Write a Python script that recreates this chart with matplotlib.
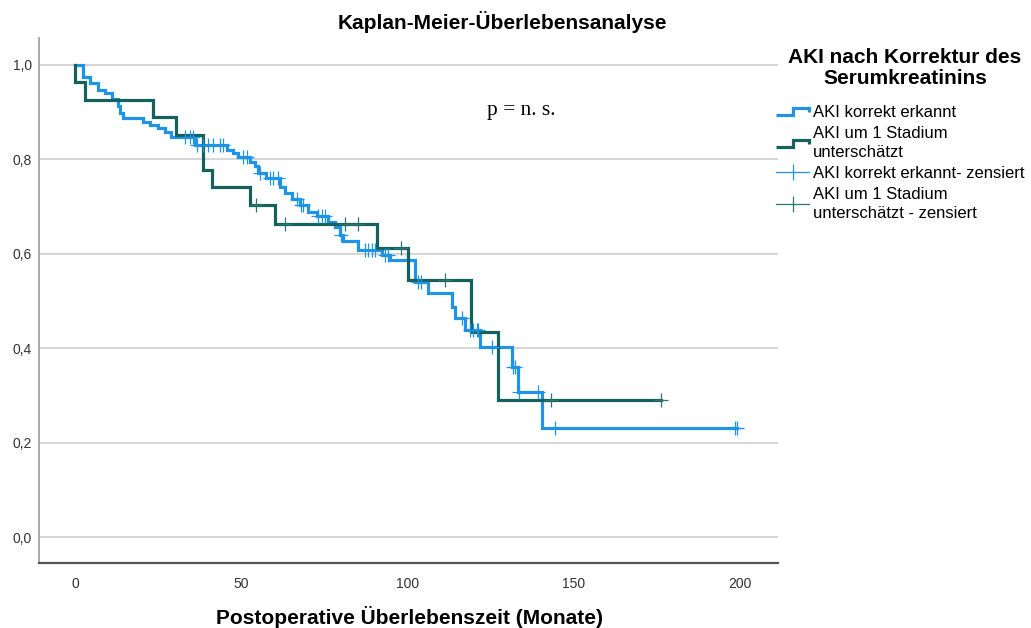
import numpy as np
import matplotlib
matplotlib.use("Agg")
import matplotlib.pyplot as plt
from matplotlib.lines import Line2D
from matplotlib.legend_handler import HandlerBase

plt.rcParams['font.family'] = ['Liberation Sans', 'DejaVu Sans']

# ---------------- data ----------------
blue_event_times = [2.5, 4.5, 7, 9, 11, 13, 13.7, 14.5, 20.5, 22.6,
                    25, 27, 29, 36, 45.6, 47.6, 49, 52.6, 54, 55,
                    57.6, 61.7, 63.2, 65.2, 67.7, 70, 72.7, 76.2, 78.2, 79.7,
                    80.7, 85.2, 92.2, 94.7, 102.3, 106.3, 113.3, 114.3, 117.3, 121.8,
                    131.3, 133.3, 140.4]
blue_surv = [0.975, 0.961, 0.947, 0.940, 0.927, 0.912, 0.899, 0.887, 0.880, 0.873,
             0.866, 0.857, 0.847, 0.830, 0.820, 0.813, 0.804, 0.795, 0.785, 0.770,
             0.760, 0.742, 0.728, 0.716, 0.703, 0.689, 0.679, 0.667, 0.657, 0.640,
             0.626, 0.608, 0.597, 0.587, 0.541, 0.516, 0.488, 0.463, 0.439, 0.402,
             0.361, 0.308, 0.230]
blue_censor_times = [33.1, 34.6, 35.6, 36.6, 38.6, 40.1, 41.6, 43.6, 44.6, 50.6,
                     51.6, 55.6, 58.6, 59.6, 61.1, 66.7, 68.0, 68.7, 73.2, 74.2,
                     75.2, 79.9, 87.2, 88.2, 89.2, 90.2, 93.2, 94.2, 103.2, 104.2,
                     116.3, 118.8, 119.8, 120.8, 121.3, 125.3, 131.6, 132.3, 133.6, 139.3,
                     144.4, 198.5, 199.2]

green_event_times = [0, 3, 23.4, 30.4, 38.4, 41.3, 52.6, 60.2, 90.9, 100.2, 119.2, 127.3]
green_surv = [0.963, 0.926, 0.889, 0.852, 0.778, 0.741, 0.703, 0.664, 0.613, 0.544, 0.435, 0.290]
green_censor_times = [54.5, 63.2, 81.3, 85.2, 98.0, 111.3, 143.2, 176.2]

group_labels = ["AKI korrekt erkannt", "AKI um 1 Stadium\nunterschätzt",
                "AKI korrekt erkannt- zensiert", "AKI um 1 Stadium\nunterschätzt - zensiert"]
x_ticks = [0, 50, 100, 150, 200]
x_tick_labels = ["0", "50", "100", "150", "200"]
y_ticks = [0.0, 0.2, 0.4, 0.6, 0.8, 1.0]
y_tick_labels = ["0,0", "0,2", "0,4", "0,6", "0,8", "1,0"]

BLUE = '#1f93e6'
GREEN = '#15625d'
GREEN_C = '#2e7570'

# ---------------- figure ----------------
fig = plt.figure(figsize=(10.31, 6.28), dpi=100)
ax = fig.add_axes([39/1031, 1-563/628, (778-39)/1031, (563-38)/628])

def step_arrays(times, surv, end):
    xs = np.concatenate([[0.0], np.asarray(times, float), [end]])
    ys = np.concatenate([[1.0], np.asarray(surv, float), [surv[-1]]])
    return xs, ys

def surv_at(xs, ys, t):
    idx = np.searchsorted(xs[:-1], t, side='right') - 1
    return ys[idx]

bx, by = step_arrays(blue_event_times, blue_surv, max(blue_censor_times))
gx, gy = step_arrays(green_event_times, green_surv, max(green_censor_times))

ax.step(bx, by, where='post', color=BLUE, lw=2.3, solid_joinstyle='miter', zorder=3)
ax.step(gx, gy, where='post', color=GREEN, lw=2.3, solid_joinstyle='miter', zorder=4)

bct = np.array(blue_censor_times)
gct = np.array(green_censor_times)
ax.plot(bct, surv_at(bx, by, bct), ls='none', marker='+', ms=10, mew=0.9, color=BLUE, zorder=5)
ax.plot(gct, surv_at(gx, gy, gct), ls='none', marker='+', ms=10, mew=0.9, color=GREEN_C, zorder=6)

ax.set_xlim(-10.8, 211.4)
ax.set_ylim(-0.055, 1.057)
ax.set_xticks(x_ticks)
ax.set_xticklabels(x_tick_labels)
ax.set_yticks(y_ticks)
ax.set_yticklabels(y_tick_labels)
ax.tick_params(axis='both', length=0, labelsize=10, labelcolor='#333333')
ax.tick_params(axis='x', pad=10)
ax.tick_params(axis='y', pad=5)
ax.grid(axis='y', color='#cccccc', lw=1.1)
ax.grid(axis='x', visible=False)
ax.set_axisbelow(True)
for s in ['top', 'right']:
    ax.spines[s].set_visible(False)
ax.spines['left'].set_color('#9a9a9a')
ax.spines['left'].set_linewidth(1.2)
ax.spines['bottom'].set_color('#555555')
ax.spines['bottom'].set_linewidth(1.6)

ax.text(123.9, 0.903, "p = n. s.", family=['Liberation Serif', 'DejaVu Serif'],
        fontsize=15.5, ha='left', va='center', color='black')

fig.text(502/1031, 1-22/628, "Kaplan-Meier-Überlebensanalyse", ha='center', va='center',
         fontsize=15, fontweight='bold')
fig.text(409/1031, 1-617/628, "Postoperative Überlebenszeit (Monate)", ha='center', va='center',
         fontsize=15, fontweight='bold')
fig.text(905/1031, 1-68/628, "AKI nach Korrektur des\nSerumkreatinins", ha='center', va='center',
         fontsize=15, fontweight='bold', linespacing=1.17)

# ---------------- legend ----------------
class StepHandler(HandlerBase):
    def create_artists(self, legend, orig_handle, xdescent, ydescent, width, height, fontsize, trans):
        x0, y0 = -xdescent, -ydescent
        xs = [x0, x0 + width * 0.52, x0 + width * 0.52, x0 + width, x0 + width]
        ys = [y0 + height * 0.15, y0 + height * 0.15, y0 + height * 0.75, y0 + height * 0.75, y0 + height * 0.45]
        ln = Line2D(xs, ys, color=orig_handle.get_color(), lw=orig_handle.get_linewidth(),
                    solid_joinstyle='miter', solid_capstyle='butt')
        ln.set_transform(trans)
        return [ln]

h1 = Line2D([], [], color=BLUE, lw=2.3)
h2 = Line2D([], [], color=GREEN, lw=2.3)
h3 = Line2D([], [], color=BLUE, lw=0.9, marker='|', ms=11, mew=0.9)
h4 = Line2D([], [], color=GREEN_C, lw=0.9, marker='|', ms=11, mew=0.9)
leg = fig.legend([h1, h2, h3, h4], group_labels, loc='upper left',
                 bbox_to_anchor=(776/1031, 1-105/628), frameon=False, fontsize=12,
                 borderpad=0, borderaxespad=0, handlelength=2.0, handletextpad=0.2,
                 labelspacing=0.36, numpoints=1,
                 handler_map={h1: StepHandler(), h2: StepHandler()})
for t in leg.get_texts():
    t.set_linespacing(1.33)

fig.savefig("out.png", dpi=100)
